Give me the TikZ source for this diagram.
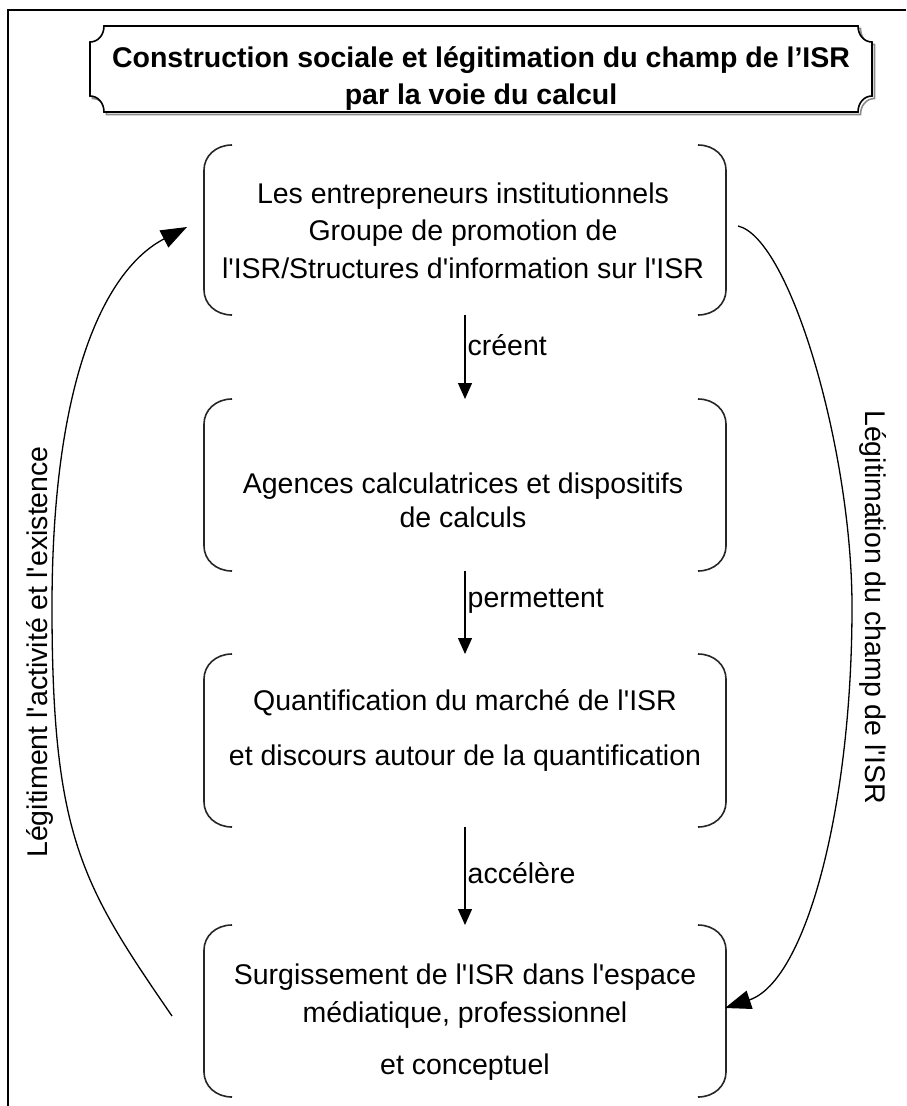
\documentclass[tikz,border=0pt]{standalone}
\usepackage{fontspec}
\setmainfont{Liberation Sans}
\usetikzlibrary{arrows.meta,calc}
\newcommand\apos{\textquotesingle}
\newcommand\drawbrackets[1]{%
  \draw[bracketline] ($(#1.north west)+(28,0)$) .. controls ($(#1.north west)+(12,0)$) and ($(#1.north west)+(0,11)$) .. ($(#1.north west)+(0,25)$)
    -- ($(#1.south west)+(0,-25)$) .. controls ($(#1.south west)+(0,-11)$) and ($(#1.south west)+(12,0)$) .. ($(#1.south west)+(28,0)$);
  \draw[bracketline] ($(#1.north east)+(-28,0)$) .. controls ($(#1.north east)+(-12,0)$) and ($(#1.north east)+(0,11)$) .. ($(#1.north east)+(0,25)$)
    -- ($(#1.south east)+(0,-25)$) .. controls ($(#1.south east)+(0,-11)$) and ($(#1.south east)+(-12,0)$) .. ($(#1.south east)+(-28,0)$);
}
\begin{document}
\begin{tikzpicture}[x=1pt,y=-1pt,
  frameline/.style={line width=1.6pt},
  bracketline/.style={line width=1.6pt, black!85},
  boxframe/.style={minimum width=522pt, inner sep=0pt, outer sep=0pt},
  boxtext/.style={align=center, font=\fontsize{28.5}{37.5}\selectfont, inner sep=0pt},
  flow/.style={line width=1.3pt, -{Triangle[length=16pt,width=14pt]}},
  side/.style={line width=1.3pt, -{Triangle[length=26pt,width=19pt]}},
  lbl/.style={font=\fontsize{28.5}{34}\selectfont, inner sep=0pt, anchor=west, xshift=2pt},
  sidelbl/.style={font=\fontsize{28.5}{34}\selectfont, inner sep=0pt},
  titletext/.style={align=center, font=\bfseries\fontsize{28.5}{37}\selectfont, inner sep=0pt}
]
\path[use as bounding box] (0,0) rectangle (906,1106);
\fill[white] (0,0) rectangle (906,1106);
% outer frame
\draw[frameline] (8,1106) -- (8,10) -- (906,10);
% title plaque (shadow, then box)
\draw[line width=1.6pt, black!45, shift={(2.5,2.5)}]
  (104,26) -- (858,26) .. controls (858,35) and (864,42) .. (872,42) -- (872,96)
  .. controls (864,96) and (858,103) .. (858,112) -- (104,112)
  .. controls (104,103) and (98,96) .. (90,96) -- (90,42)
  .. controls (98,42) and (104,35) .. (104,26) -- cycle;
\draw[line width=1.6pt, fill=white]
  (104,26) -- (858,26) .. controls (858,35) and (864,42) .. (872,42) -- (872,96)
  .. controls (864,96) and (858,103) .. (858,112) -- (104,112)
  .. controls (104,103) and (98,96) .. (90,96) -- (90,42)
  .. controls (98,42) and (104,35) .. (104,26) -- cycle;
\node[titletext] (title) at (481,79) {Construction sociale et légitimation du champ de l’ISR\\par la voie du calcul};

% bracket frames
\node[boxframe, minimum height=170pt] (b1) at (465,230) {};
\node[boxframe, minimum height=172pt] (b2) at (465,485) {};
\node[boxframe, minimum height=173pt] (b3) at (465,740.5) {};
\node[boxframe, minimum height=172pt] (b4) at (465,1011) {};
\drawbrackets{b1}
\drawbrackets{b2}
\drawbrackets{b3}
\drawbrackets{b4}

% box texts
\node[boxtext] (t1) at (463,230.5) {Les entrepreneurs institutionnels\\Groupe de promotion de\\l\apos ISR/Structures d\apos information sur l\apos ISR};
\node[boxtext] (t2) at (463,500) {Agences calculatrices et dispositifs\\[-3.5pt]de calculs};
\node[boxtext] (t3) at (465,730.5) {Quantification du marché de l\apos ISR\\[17.5pt]et discours autour de la quantification};
\node[boxtext] (t4) at (465,1022) {Surgissement de l\apos ISR dans l\apos espace\\[0.5pt]médiatique, professionnel\\[14.5pt]et conceptuel};

% vertical arrows
\draw[flow] (b1.south) -- (b2.north) node[lbl, pos=0.36] (l1) {créent};
\draw[flow] (b2.south) -- (b3.north) node[lbl, pos=0.37] (l2) {permettent};
\draw[flow] (b3.south) -- (b4.north) node[lbl, pos=0.47] (l3) {accélère};

% side curves
\coordinate (lmid) at (52,607);
\coordinate (rmid) at (852,607);
\draw[side] ($(b4.west)+(-32,5)$) .. controls (82,885) and (52,837) .. (lmid)
  .. controls (52,377) and (106,269) .. ($(b1.west)+(-17,-3)$);
\draw[side] ($(b1.east)+(12,-4)$) .. controls (790,238) and (852,450) .. (rmid)
  .. controls (852,807) and (806,981) .. ($(b4.east)+(-1,-3)$);

\node[sidelbl, rotate=90] (ltext) at (40,652) {Légitiment l\apos activité et l\apos existence};
\node[sidelbl, rotate=-90] (rtext) at (873,607) {Légitimation du champ de l\apos ISR};
\end{tikzpicture}
\end{document}
